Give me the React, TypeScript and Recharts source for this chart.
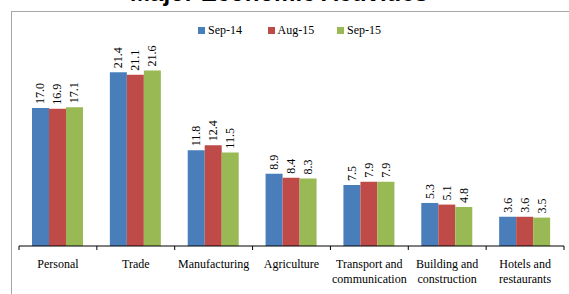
import { BarChart, Bar, XAxis, YAxis, LabelList } from "recharts";

const categories = [
  "Personal",
  "Trade",
  "Manufacturing",
  "Agriculture",
  "Transport and communication",
  "Building and construction",
  "Hotels and restaurants",
];
const sep14 = [17.0, 21.4, 11.8, 8.9, 7.5, 5.3, 3.6];
const aug15 = [16.9, 21.1, 12.4, 8.4, 7.9, 5.1, 3.6];
const sep15 = [17.1, 21.6, 11.5, 8.3, 7.9, 4.8, 3.5];

const series = [
  { key: "sep14", name: "Sep-14", color: "#4a7ebb" },
  { key: "aug15", name: "Aug-15", color: "#be4b48" },
  { key: "sep15", name: "Sep-15", color: "#98b954" },
];

const data = categories.map((c, i) => ({
  name: c,
  sep14: sep14[i],
  aug15: aug15[i],
  sep15: sep15[i],
}));

const W = 569;
const H = 294;
const AXIS_H = 30;
const M = { top: 43, right: 5, left: 19, bottom: 48 - AXIS_H };
const BAND = (W - M.left - M.right) / categories.length;
const FONT = "'Liberation Serif', 'Times New Roman', Times, serif";

function CategoryTick(props: any) {
  const { x, y, payload, index } = props;
  const name: string = payload.value;
  const parts = name.split(" and ");
  const lines = parts.length > 1 ? [parts[0] + " and", parts[1]] : [name];
  const left = x - BAND / 2;
  return (
    <g>
      <line x1={left} x2={left} y1={y - 8} y2={y - 4} stroke="#000" />
      {index === categories.length - 1 && (
        <line x1={left + BAND} x2={left + BAND} y1={y - 8} y2={y - 4} stroke="#000" />
      )}
      {lines.map((l, i) => (
        <text
          key={i}
          x={x}
          y={y + 14 + i * 14.5}
          textAnchor="middle"
          fontFamily={FONT}
          fontSize={12}
          fill="#000"
        >
          {l}
        </text>
      ))}
    </g>
  );
}

function ValueLabel(props: any) {
  const { x, y, width, value } = props;
  const cx = x + width / 2;
  const ty = y - 4;
  return (
    <text
      x={cx}
      y={ty}
      transform={`rotate(-90 ${cx} ${ty})`}
      textAnchor="start"
      dominantBaseline="central"
      fontFamily={FONT}
      fontSize={12}
      fill="#000"
    >
      {Number(value).toFixed(1)}
    </text>
  );
}

function LegendBox() {
  return (
    <div
      style={{
        position: "absolute",
        left: 198,
        top: 24,
        display: "flex",
        fontFamily: FONT,
        fontSize: 12,
        lineHeight: "12px",
      }}
    >
      {series.map((s) => (
        <div key={s.key} style={{ width: 69.5, display: "flex", alignItems: "center" }}>
          <span
            style={{ width: 7, height: 7, background: s.color, display: "inline-block", marginRight: 3 }}
          />
          <span>{s.name}</span>
        </div>
      ))}
    </div>
  );
}

export default function App() {
  return (
    <div style={{ position: "absolute", left: 0, top: 0, width: W, height: H, overflow: "hidden", background: "#fff" }}>
      <div
        style={{
          position: "absolute",
          left: 11,
          top: 11,
          width: 700,
          height: 400,
          borderLeft: "1px solid #a6a6a6",
          borderTop: "1px solid #a6a6a6",
        }}
      />
      <div
        style={{
          position: "absolute",
          left: 0,
          top: -19,
          width: 558,
          textAlign: "center",
          fontFamily: "'Liberation Sans', Arial, sans-serif",
          fontWeight: "bold",
          fontSize: 24,
          lineHeight: "24px",
        }}
      >
        Major Economic Activities
      </div>
      <LegendBox />
      <div style={{ position: "absolute", left: 0, top: 0 }}>
        <BarChart width={W} height={H} data={data} margin={M} barGap={0} barCategoryGap={13}>
          <XAxis
            dataKey="name"
            interval={0}
            height={AXIS_H}
            tickLine={false}
            axisLine={{ stroke: "#000" }}
            tick={<CategoryTick />}
          />
          <YAxis hide domain={[0, 25]} />
          {series.map((s) => (
            <Bar key={s.key} dataKey={s.key} name={s.name} fill={s.color} isAnimationActive={false}>
              <LabelList dataKey={s.key} content={<ValueLabel />} />
            </Bar>
          ))}
        </BarChart>
      </div>
    </div>
  );
}
